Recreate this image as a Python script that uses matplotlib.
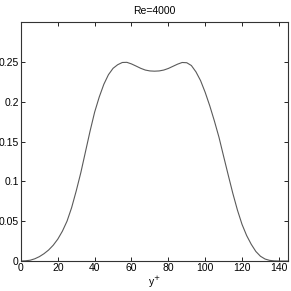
import matplotlib
matplotlib.use("Agg")
import matplotlib.pyplot as plt

# values
y_plus = [0, 2.5, 5, 7.5, 10, 12.5, 15, 17.5, 20, 22.5, 25, 27.5, 30, 32.5,
          35, 37.5, 40, 42.5, 45, 47.5, 50, 52.5, 55, 57.5, 60, 62.5, 65,
          67.5, 70, 72.5, 75, 77.5, 80, 82.5, 85, 87.5, 90, 92.5, 95, 97.5,
          100, 102.5, 105, 107.5, 110, 112.5, 115, 117.5, 120, 122.5, 125,
          127.5, 130, 132.5, 135, 137.5, 140, 142.5, 145]
value = [0, 0.0003, 0.001, 0.0028, 0.0055, 0.0092, 0.0138, 0.0198, 0.0275,
         0.0375, 0.050, 0.067, 0.088, 0.111, 0.137, 0.163, 0.187, 0.206,
         0.222, 0.234, 0.242, 0.2465, 0.2493, 0.2495, 0.2475, 0.2448, 0.242,
         0.2398, 0.2387, 0.2384, 0.2387, 0.2398, 0.2418, 0.2445, 0.2472,
         0.2493, 0.249, 0.2455, 0.2375, 0.2265, 0.2118, 0.1948, 0.1758,
         0.1553, 0.1315, 0.108, 0.085, 0.064, 0.046, 0.032, 0.021, 0.012,
         0.006, 0.0025, 0.0008, 0.0002, 0, 0, 0]

x_ticks = [0, 20, 40, 60, 80, 100, 120, 140]
y_ticks = [0, 0.05, 0.1, 0.15, 0.2, 0.25]
y_tick_labels = ["0", "0.05", "0.1", "0.15", "0.2", "0.25"]

plt.rcParams["font.family"] = ["Liberation Sans", "DejaVu Sans"]
plt.rcParams["font.size"] = 7.5

fig = plt.figure(figsize=(2.91, 2.91), dpi=100)
ax = fig.add_axes([0.072, 0.103, 0.918, 0.821])

ax.plot(y_plus, value, color="#5a5a5a", linewidth=0.8)

ax.set_xlim(0, 145)
ax.set_ylim(0, 0.3)
ax.set_xticks(x_ticks)
ax.set_yticks(y_ticks)
ax.set_yticklabels(y_tick_labels)
ax.tick_params(direction="in", top=True, right=True, length=3, width=0.6, pad=1.5)
for s in ax.spines.values():
    s.set_linewidth(0.8)
    s.set_color("#333333")

ax.set_title("Re=4000", fontsize=7.5, pad=6)
ax.set_xlabel("y$^{+}$", fontsize=7.5, labelpad=1)

fig.savefig("out.png", dpi=100)
